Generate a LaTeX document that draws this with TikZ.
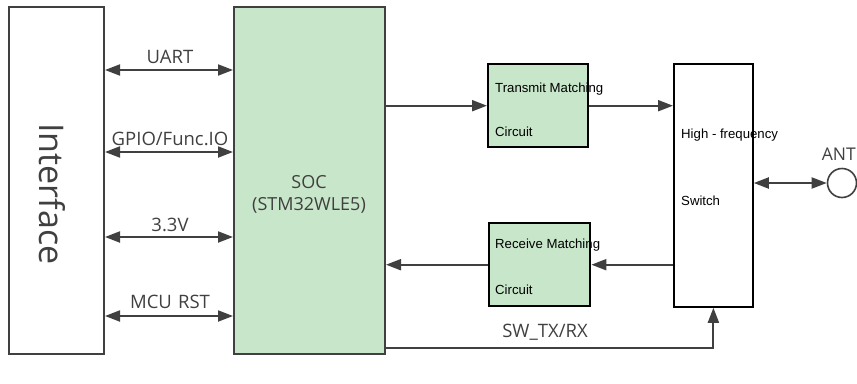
\documentclass[tikz,border=0pt]{standalone}
\usepackage{fontspec}
\setmainfont{Open Sans}
\newfontfamily\boxfont{Liberation Sans}
\usetikzlibrary{arrows.meta,calc}
\definecolor{soft}{RGB}{200,230,201}
\definecolor{ln}{RGB}{64,64,64}
\tikzset{
  bigbox/.style={draw=ln,line width=2pt,inner sep=0pt,anchor=north west},
  smallbox/.style={draw=black,line width=2.4pt,fill=soft,inner sep=0pt,anchor=north west},
  swbox/.style={draw=black,line width=1.8pt,fill=white,inner sep=0pt,anchor=north west},
  arr/.style={draw=ln,line width=2pt,-{Triangle[length=15pt,width=11pt]}},
  darr/.style={draw=ln,line width=2pt,{Triangle[length=15pt,width=11pt]}-{Triangle[length=15pt,width=11pt]}},
  lbl/.style={font=\fontsize{18.5}{20}\selectfont,text=ln,inner sep=0pt},
  btxt/.style={font=\boxfont\fontsize{13.2}{15}\selectfont,anchor=west,inner sep=0pt},
}
\begin{document}
\begin{tikzpicture}[x=1pt,y=-1pt]
\useasboundingbox (0,0) rectangle (857,383);
\node[bigbox,fill=white,minimum width=95,minimum height=347] (iface) at (8,6) {};
\node[rotate=-90,font=\fontsize{34}{36}\selectfont,text=ln] (ifacetxt) at (52,194) {Interface};
\node[bigbox,fill=soft,minimum width=151,minimum height=347] (soc) at (233,6) {};
\node[lbl,align=center,font=\fontsize{18}{22}\selectfont] (soctxt) at (309,194) {SOC\\(STM32WLE5)};

\coordinate (y1) at (0,70);
\coordinate (y2) at (0,152);
\coordinate (y3) at (0,237);
\coordinate (y4) at (0,316);
\draw[darr] (iface.east |- y1) -- (soc.west |- y1);
\draw[darr] (iface.east |- y2) -- (soc.west |- y2);
\draw[darr] (iface.east |- y3) -- (soc.west |- y3);
\draw[darr] (iface.east |- y4) -- (soc.west |- y4);
\node[lbl] (l1) at (170,57) {UART};
\node[lbl] (l2) at (170,139) {GPIO/Func.IO};
\node[lbl] (l3) at (170,225) {3.3V};
\node[lbl] (l4) at (170,302) {MCU\,\,RST};

\node[smallbox,minimum width=100,minimum height=83] (tm) at (487,63) {};
\node[btxt] (tmt1) at (495,89) {Transmit Matching};
\node[btxt] (tmt2) at (495,132) {Circuit};
\node[smallbox,minimum width=101,minimum height=83] (rm) at (488,222) {};
\node[btxt] (rmt1) at (495,245) {Receive Matching};
\node[btxt] (rmt2) at (495,290) {Circuit};
\node[swbox,minimum width=79,minimum height=243] (sw) at (673,63) {};
\node[btxt] (swt1) at (681,135) {High - frequency};
\node[btxt] (swt2) at (681,201) {Switch};

\node[draw=ln,line width=1.6pt,circle,minimum size=29,inner sep=0pt] (ant) at (842,183) {};
\node[lbl,anchor=base east,font=\fontsize{17.5}{20}\selectfont] (antl) at (856,160) {ANT};

\draw[arr] (soc.east |- tm.west) -- (tm.west);
\draw[arr] (tm.east) -- (tm.east -| sw.west);
\draw[arr] (rm.east -| sw.west) -- (rm.east);
\draw[arr] (rm.west) -- (rm.west -| soc.east);
\draw[darr] (sw.east |- ant) -- (ant.west);
\coordinate (ysw) at (0,348);
\draw[arr] (soc.east |- ysw) -| (sw.south);
\node[lbl] (swl) at (545,332) {SW\_TX/RX};
\end{tikzpicture}
\end{document}
